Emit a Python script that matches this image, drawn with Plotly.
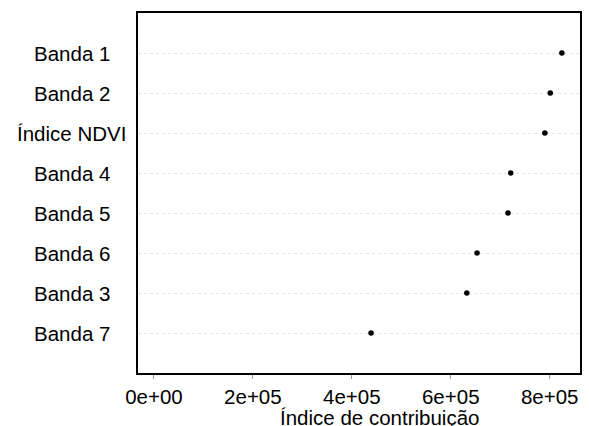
import plotly.graph_objects as go

labels = ["Banda 1", "Banda 2", "Índice NDVI", "Banda 4", "Banda 5", "Banda 6", "Banda 3", "Banda 7"]
values = [824600, 801200, 790300, 721200, 715700, 653200, 632500, 438900]
xtick_vals = [0, 200000, 400000, 600000, 800000]
xtick_text = ["0e+00", "2e+05", "4e+05", "6e+05", "8e+05"]
x_title = "Índice de contribuição"

n = len(labels)
ypos = [n - i for i in range(n)]

FONT = "Liberation Sans, Arial, sans-serif"
FS = 20.5

fig = go.Figure()
fig.add_trace(go.Scatter(
    x=values, y=ypos, mode="markers",
    marker=dict(color="black", size=5.5, symbol="circle"),
    showlegend=False, hoverinfo="x+text", text=labels,
))

for lab, yp in zip(labels, ypos):
    fig.add_annotation(
        x=-0.1495, xref="paper", y=yp, yref="y",
        text=lab, showarrow=False, xanchor="center", yanchor="middle",
        font=dict(family=FONT, size=FS, color="black"),
    )

fig.add_annotation(
    x=0.547, xref="paper", y=0, yref="paper", yshift=-31,
    text=x_title, showarrow=False, xanchor="center", yanchor="top",
    font=dict(family=FONT, size=20.5, color="black"),
)

fig.update_layout(
    width=589, height=426,
    margin=dict(l=138, r=7, t=13, b=53, pad=0),
    paper_bgcolor="white", plot_bgcolor="white",
    font=dict(family=FONT, size=FS, color="black"),
    xaxis=dict(
        range=[-32240, 861300], tickvals=xtick_vals, ticktext=xtick_text,
        showgrid=False, zeroline=False,
        ticks="outside", ticklen=4, tickcolor="#999999", tickwidth=1,
        showline=True, linecolor="black", linewidth=2, mirror=True,
        tickfont=dict(family=FONT, size=FS, color="black"),
    ),
    yaxis=dict(
        range=[0, n + 1], tickvals=ypos, showticklabels=False,
        showgrid=True, gridcolor="#e2e2e2", gridwidth=1, griddash="dot",
        zeroline=False, ticks="",
        showline=True, linecolor="black", linewidth=2, mirror=True,
    ),
)

fig.write_html(
    "out.html",
    config={"displayModeBar": False},
    post_script="document.body.style.margin='0';document.body.style.overflow='hidden';",
)
